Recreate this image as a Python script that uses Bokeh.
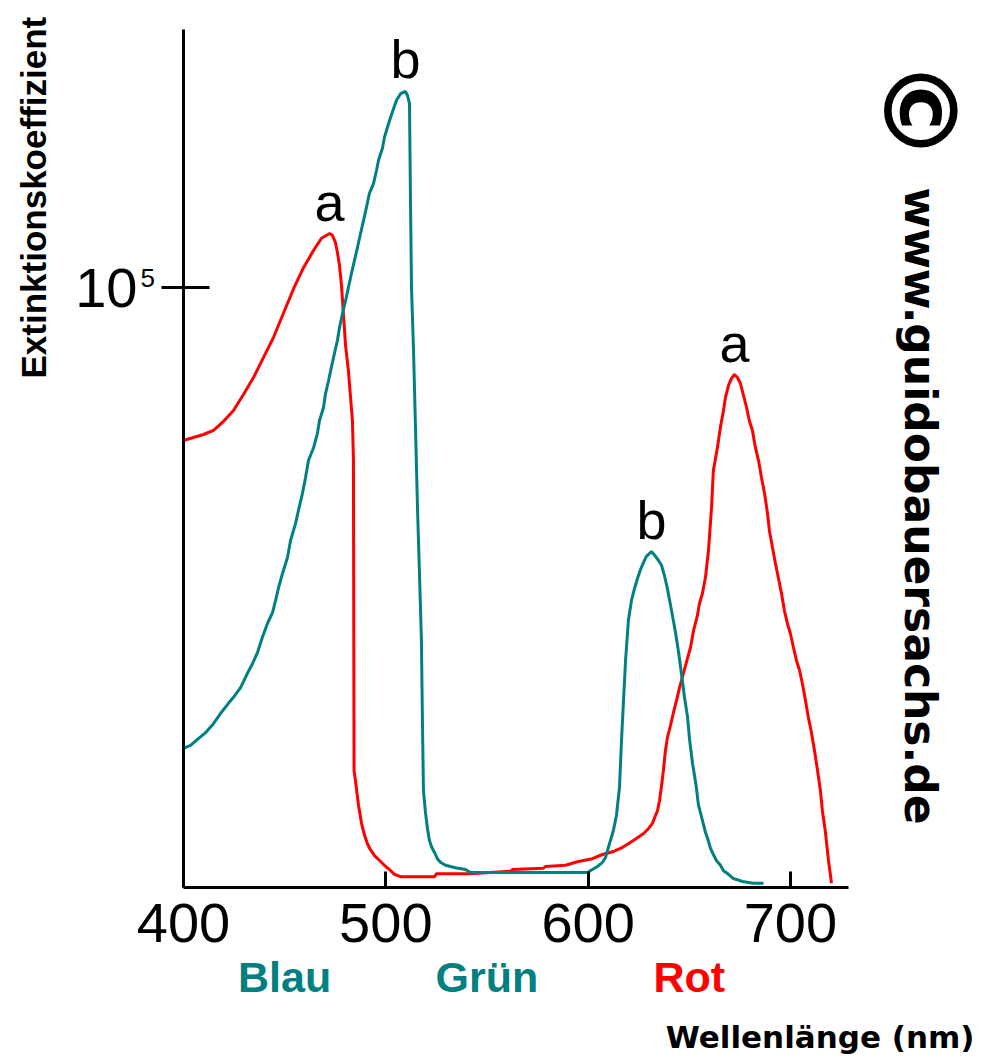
import math
import numpy as np
from bokeh.plotting import figure
from bokeh.models import FixedTicker, Label, LabelSet, ColumnDataSource
from bokeh.core.properties import value
from bokeh.embed import file_html
from bokeh.resources import INLINE

# ---- data (wavelength in nm, extinction coefficient in units of 10^5) ----
wavelength_a = [400.0, 404.9, 409.9, 414.8, 419.8, 424.7, 429.7, 434.6, 439.5, 444.5,
                449.4, 454.4, 459.3, 464.3, 468.2, 472.2, 473.6, 475.1, 476.1, 477.1,
                478.1, 479.1, 480.1, 481.5, 482.5, 483.5, 484.0, 484.3, 485.0, 486.5,
                488.0, 489.5, 490.9, 492.4, 494.4, 496.9, 499.3, 501.8, 504.3, 507.3,
                524.1, 525.0, 541.8, 561.6, 562.6, 577.9, 578.9, 588.8, 594.7, 602.1,
                607.1, 612.5, 617.0, 619.9, 624.4, 627.4, 629.8, 631.8, 633.3, 634.3,
                635.3, 636.3, 637.2, 638.2, 639.2, 640.7, 642.2, 643.7, 645.1, 647.1,
                649.1, 650.6, 652.1, 654.0, 655.0, 656.5, 658.0, 659.5, 661.0, 661.9,
                663.9, 665.4, 666.9, 667.9, 669.4, 670.8, 672.3, 673.8, 675.3, 676.8,
                678.3, 679.7, 681.2, 682.7, 684.2, 685.7, 687.2, 688.6, 689.6, 691.1,
                692.6, 694.1, 695.6, 697.0, 698.5, 700.0, 701.5, 703.0, 704.5, 705.9,
                707.4, 708.9, 710.4, 711.9, 713.4, 714.8, 715.8, 717.3, 718.8, 720.3]
extinction_a = [0.745, 0.750, 0.755, 0.762, 0.777, 0.795, 0.822, 0.850, 0.883, 0.917,
                0.957, 0.998, 1.033, 1.062, 1.082, 1.090, 1.087, 1.075, 1.058, 1.037,
                1.003, 0.953, 0.903, 0.862, 0.820, 0.778, 0.712, 0.195, 0.178, 0.137,
                0.107, 0.087, 0.073, 0.063, 0.053, 0.045, 0.037, 0.030, 0.022, 0.018,
                0.018, 0.023, 0.023, 0.027, 0.030, 0.032, 0.035, 0.037, 0.043, 0.048,
                0.055, 0.060, 0.067, 0.073, 0.083, 0.090, 0.098, 0.107, 0.120, 0.128,
                0.145, 0.170, 0.195, 0.228, 0.250, 0.270, 0.292, 0.312, 0.332, 0.357,
                0.382, 0.400, 0.428, 0.453, 0.473, 0.490, 0.517, 0.562, 0.633, 0.695,
                0.733, 0.767, 0.795, 0.817, 0.837, 0.848, 0.855, 0.850, 0.840, 0.820,
                0.800, 0.778, 0.762, 0.733, 0.712, 0.683, 0.657, 0.625, 0.595, 0.567,
                0.540, 0.515, 0.490, 0.462, 0.440, 0.423, 0.400, 0.378, 0.362, 0.340,
                0.312, 0.283, 0.258, 0.228, 0.195, 0.162, 0.128, 0.092, 0.045, 0.007]

wavelength_b = [400.0, 403.5, 406.9, 410.9, 414.8, 418.3, 422.2, 424.7, 428.2, 431.6,
                434.1, 436.6, 439.0, 441.5, 444.0, 445.5, 447.0, 448.9, 451.4, 452.9,
                455.4, 456.8, 458.8, 460.3, 461.8, 464.3, 466.2, 467.2, 469.2, 470.2,
                471.7, 473.1, 474.6, 476.1, 477.1, 478.6, 480.1, 481.5, 483.0, 484.5,
                486.0, 487.5, 489.0, 490.4, 491.9, 493.9, 495.4, 496.4, 498.4, 499.3,
                500.8, 502.3, 503.8, 505.3, 507.3, 509.7, 510.7, 511.7, 512.2, 512.7,
                513.7, 514.7, 515.7, 516.6, 517.6, 518.1, 518.6, 519.6, 520.6, 521.6,
                522.6, 524.1, 525.5, 527.0, 529.5, 534.4, 539.4, 541.8, 599.7, 602.1,
                604.6, 607.1, 608.6, 609.6, 611.0, 612.5, 614.0, 615.5, 616.5, 617.5,
                618.5, 619.9, 621.4, 622.9, 624.4, 625.9, 627.4, 628.8, 631.3, 633.3,
                634.8, 636.3, 637.7, 639.2, 640.2, 641.7, 643.2, 644.7, 646.1, 647.6,
                649.1, 650.1, 651.6, 653.5, 654.5, 656.5, 658.0, 659.5, 660.5, 661.9,
                663.4, 665.4, 666.9, 669.4, 671.8, 676.3, 681.7, 686.7]
extinction_b = [0.232, 0.237, 0.247, 0.258, 0.273, 0.290, 0.307, 0.317, 0.333, 0.357,
                0.373, 0.392, 0.417, 0.440, 0.458, 0.478, 0.500, 0.523, 0.550, 0.578,
                0.607, 0.628, 0.657, 0.683, 0.712, 0.733, 0.757, 0.778, 0.800, 0.823,
                0.845, 0.867, 0.890, 0.912, 0.933, 0.957, 0.978, 1.000, 1.023, 1.045,
                1.067, 1.090, 1.112, 1.133, 1.157, 1.173, 1.195, 1.212, 1.233, 1.250,
                1.267, 1.283, 1.298, 1.312, 1.323, 1.327, 1.320, 1.307, 1.145, 1.000,
                0.895, 0.762, 0.628, 0.528, 0.412, 0.278, 0.162, 0.125, 0.098, 0.078,
                0.068, 0.058, 0.048, 0.042, 0.037, 0.033, 0.030, 0.025, 0.025, 0.030,
                0.035, 0.042, 0.050, 0.062, 0.078, 0.095, 0.120, 0.167, 0.245, 0.312,
                0.378, 0.445, 0.478, 0.498, 0.515, 0.530, 0.542, 0.552, 0.560, 0.552,
                0.545, 0.537, 0.520, 0.498, 0.480, 0.453, 0.425, 0.392, 0.357, 0.318,
                0.285, 0.248, 0.207, 0.167, 0.138, 0.112, 0.092, 0.077, 0.065, 0.055,
                0.045, 0.037, 0.028, 0.022, 0.015, 0.010, 0.007, 0.007]

peak_names_a = "a"
peak_names_b = "b"
x_ticks = [400, 500, 600, 700]
y_ticks = [1.0]
y_tick_labels = {1.0: "10"}
y_exponent = "5"
region_names = ["Blau", "Grün", "Rot"]
region_centers = [450, 550, 650]
region_colors = ["#008080", "#008080", "#ff0000"]
x_title = "Wellenlänge (nm)"
y_title = "Extinktionskoeffizient"
copyright_mark = "\u00a9"
credit = "www.guidobauersachs.de"

TEAL = "#008080"
RED = "#ff0000"
SANS = "Liberation Sans"
WIDE = "DejaVu Sans"

W, H = 980, 1056
# plot area (axes box) in canvas pixels
AL, AT, AW, AH = 183, 29, 665, 858
X0, X1, Y0, Y1 = 400.0, 728.7, 0.0, 1.43
KX = (X1 - X0) / AW
KY = (Y1 - Y0) / AH

def dx(px):
    return X0 + (px - AL) * KX

def dy(py):
    return Y0 + (AT + AH - py) * KY

# the frame covers the whole canvas; axes are drawn at fixed data locations
p = figure(width=W, height=H, title=None,
           x_range=(dx(0), dx(W)), y_range=(dy(H), dy(0)),
           output_backend="svg", toolbar_location=None,
           min_border=0, min_border_left=0, min_border_right=0,
           min_border_top=0, min_border_bottom=0)
p.outline_line_color = None
p.xgrid.visible = False
p.ygrid.visible = False
p.background_fill_color = "white"
p.border_fill_color = "white"

for ax in (p.xaxis[0], p.yaxis[0]):
    ax.axis_line_width = 3
    ax.axis_line_color = "black"
    ax.major_tick_line_width = 3
    ax.major_tick_line_color = "black"
    ax.minor_tick_line_color = None
    ax.major_label_text_font = SANS
    ax.major_label_text_color = "black"

p.xaxis.fixed_location = Y0
p.xaxis.bounds = (X0, X1)
p.xaxis.ticker = FixedTicker(ticks=x_ticks)
p.xaxis.major_tick_in = 16
p.xaxis.major_tick_out = 0
p.xaxis.major_label_text_font_size = "56px"
p.xaxis.major_label_standoff = 16

p.yaxis.fixed_location = X0
p.yaxis.bounds = (Y0, Y1)
p.yaxis.ticker = FixedTicker(ticks=y_ticks)
p.yaxis.major_label_overrides = y_tick_labels
p.yaxis.major_tick_in = 26
p.yaxis.major_tick_out = 22
p.yaxis.major_label_text_font_size = "56px"
p.yaxis.major_label_standoff = 24

p.line(wavelength_a, extinction_a, line_color=RED, line_width=3)
p.line(wavelength_b, extinction_b, line_color=TEAL, line_width=3)

# peak letters computed from the series
def two_peaks(xs, ys, split=560):
    xs = np.asarray(xs); ys = np.asarray(ys)
    out = []
    for mask in (xs < split, xs >= split):
        i = np.argmax(np.where(mask, ys, -1))
        out.append((xs[i], ys[i]))
    return out

pk_a = two_peaks(wavelength_a, extinction_a)
pk_b = two_peaks(wavelength_b, extinction_b)
peak_src = ColumnDataSource(dict(
    x=[q[0] for q in pk_a] + [q[0] for q in pk_b],
    y=[q[1] for q in pk_a] + [q[1] for q in pk_b],
    t=[peak_names_a] * 2 + [peak_names_b] * 2))
p.add_layout(LabelSet(x="x", y="y", text="t", source=peak_src,
                      text_align="center", text_baseline="alphabetic",
                      y_offset=13, text_color="black",
                      text_font=value(SANS), text_font_size=value("54px")))

# region names under the axis
reg_src = ColumnDataSource(dict(x=region_centers, y=[dy(991)] * len(region_centers),
                                t=region_names, c=region_colors))
p.add_layout(LabelSet(x="x", y="y", text="t", source=reg_src,
                      text_align="center", text_baseline="alphabetic",
                      text_color="c", text_font=value(SANS),
                      text_font_style=value("bold"), text_font_size=value("43px")))

def label(text, px, py, **kw):
    p.add_layout(Label(x=dx(px), y=dy(py), text=text, text_color="black", **kw))

# exponent of the y tick label
label(y_exponent, 140, 277, text_font=SANS, text_font_size="26px",
      text_align="left", text_baseline="alphabetic")

# axis titles
label(x_title, 974, 1036, text_font=WIDE, text_font_style="bold",
      text_font_size="31px", text_align="right", text_baseline="alphabetic")
label(y_title, 33, 378, angle=math.pi / 2, text_font=SANS, text_font_style="bold",
      text_font_size="35px", text_align="left", text_baseline="alphabetic")

# copyright and credit, rotated
label(copyright_mark, 919, 110, angle=-math.pi / 2, text_font=WIDE,
      text_font_style="bold", text_font_size="102px",
      text_align="center", text_baseline="middle")
label(credit, 920, 187, angle=-math.pi / 2, text_font=WIDE, text_font_style="bold",
      text_font_size="44px", text_align="left", text_baseline="alphabetic")

open("out.html", "w").write(file_html(p, INLINE))
